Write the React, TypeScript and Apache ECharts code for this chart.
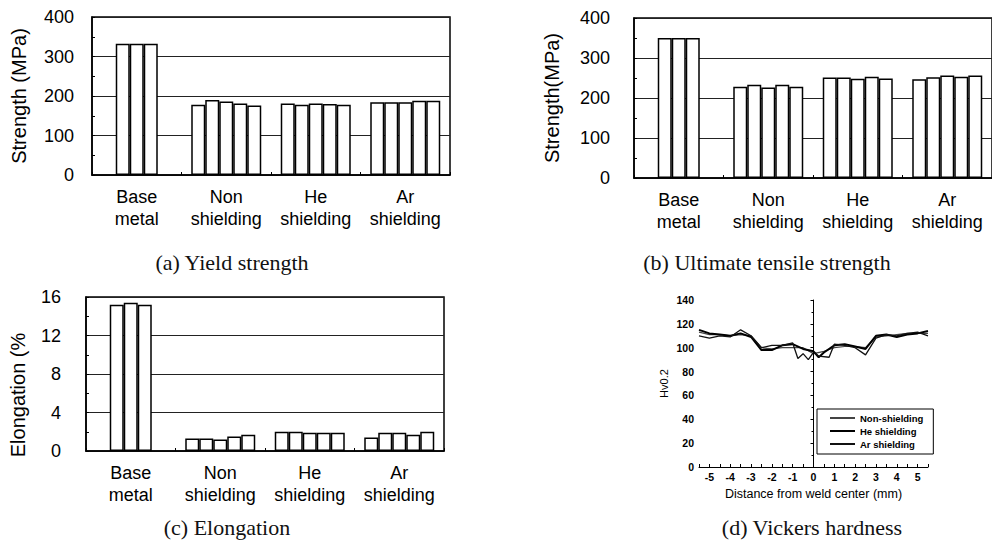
import { useEffect, useRef } from "react";
import * as echarts from "echarts";

// ---- categories ----
const groups = ["Base\nmetal", "Non\nshielding", "He\nshielding", "Ar\nshielding"];

// ---- (a) yield strength, MPa (base metal has 3 specimens, others 5) ----
const yieldBase = [332, 332, 332];
const yieldNon = [178, 190, 186, 181, 176];
const yieldHe = [181, 178, 181, 180, 178];
const yieldAr = [184, 184, 184, 188, 188];

// ---- (b) ultimate tensile strength, MPa ----
const utsBase = [350, 350, 350];
const utsNon = [228, 233, 226, 233, 228];
const utsHe = [251, 251, 248, 253, 249];
const utsAr = [247, 252, 256, 253, 256];

// ---- (c) elongation, % ----
const elBase = [15.2, 15.4, 15.2];
const elNon = [1.3, 1.3, 1.2, 1.5, 1.7];
const elHe = [2.0, 2.0, 1.9, 1.9, 1.9];
const elAr = [1.4, 1.9, 1.9, 1.7, 2.0];

// ---- (d) Vickers hardness profiles [distance mm, Hv0.2] ----
const hvNon: [number, number][] = [
  [-5.5, 113], [-5, 111], [-4.5, 111], [-4, 110], [-3.5, 111], [-3, 110], [-2.5, 100],
  [-2, 99], [-1.5, 100], [-1, 100], [-0.5, 100], [0, 95], [0.5, 97], [1, 100], [1.5, 101],
  [2, 101], [2.5, 100], [3, 109], [3.5, 110], [4, 111], [4.5, 112], [5, 112], [5.5, 112],
];
const hvHe: [number, number][] = [
  [-5.5, 115], [-5, 112], [-4.5, 111], [-4, 110], [-3.5, 112], [-3, 109], [-2.5, 98],
  [-2, 98], [-1.5, 102], [-1, 103], [-0.5, 99], [0, 97], [0.25, 92], [0.5, 96], [1, 102],
  [1.5, 103], [2, 101], [2.5, 99], [3, 110], [3.5, 111], [4, 109], [4.5, 111], [5, 112], [5.5, 114],
];
const hvAr: [number, number][] = [
  [-5.5, 110], [-5, 108], [-4.5, 110], [-4, 109], [-3.5, 115], [-3, 110], [-2.5, 100],
  [-2, 102], [-1.5, 102], [-1, 104], [-0.75, 91], [-0.5, 95], [-0.25, 90], [0, 96], [0.25, 93],
  [0.75, 92], [1, 103], [1.5, 102], [2, 100], [2.5, 94], [3, 108], [3.5, 111], [4, 110],
  [4.5, 112], [5, 113], [5.5, 110],
];
const hvNames = ["Non-shielding", "He shielding", "Ar shielding"];
const distLabels = [-5, -4, -3, -2, -1, 0, 1, 2, 3, 4, 5];
const distTicks = [-5.5, -5, -4.5, -4, -3.5, -3, -2.5, -2, -1.5, -1, -0.5, 0, 0.5, 1, 1.5, 2, 2.5, 3, 3.5, 4, 4.5, 5, 5.5];

const captions = ["(a) Yield strength", "(b) Ultimate tensile strength", "(c) Elongation", "(d) Vickers hardness"];

const SANS = "Liberation Sans, Arial, sans-serif";
const SERIF = "Liberation Serif, Times New Roman, serif";

function barSeries(idx: number, base: number[], non: number[], he: number[], ar: number[]) {
  const out: any[] = [];
  for (let k = 0; k < 5; k++) {
    const b = k >= 1 && k <= 3 ? base[k - 1] : "-";
    out.push({
      type: "bar",
      xAxisIndex: idx,
      yAxisIndex: idx,
      barWidth: 14,
      barGap: "0%",
      data: [b, non[k], he[k], ar[k]],
      itemStyle: { color: "#fff", borderColor: "#000", borderWidth: 1.5 },
      silent: true,
    });
  }
  return out;
}

function catAxis(idx: number) {
  return {
    type: "category",
    gridIndex: idx,
    data: groups,
    axisLine: { show: true, lineStyle: { color: "#000", width: 1.5 } },
    axisTick: { show: true, inside: true, length: 3, lineStyle: { color: "#000" } },
    axisLabel: { interval: 0, fontSize: 18, lineHeight: 22, margin: 11, color: "#000", fontFamily: SANS },
    splitLine: { show: false },
  };
}

function valAxis(idx: number, max: number, interval: number, margin: number, name: string, nameGap: number) {
  return {
    type: "value",
    gridIndex: idx,
    min: 0,
    max,
    interval,
    name,
    nameLocation: "middle",
    nameGap,
    nameTextStyle: { fontSize: 20, color: "#000", fontFamily: SANS },
    axisLine: { show: true, lineStyle: { color: "#000", width: 1.5 } },
    axisTick: { show: true, inside: true, length: 3, lineStyle: { color: "#000" } },
    minorTick: { show: true, splitNumber: 2, length: 3, lineStyle: { color: "#000" } },
    axisLabel: { fontSize: 18, color: "#000", margin, fontFamily: SANS },
    splitLine: { show: true, lineStyle: { color: "#222", width: 1 } },
  };
}

export default function App() {
  const ref = useRef<HTMLDivElement>(null);
  useEffect(() => {
    if (!ref.current) return;
    const chart = echarts.init(ref.current, null, { renderer: "svg" });
    const gridStyle = { show: true, borderColor: "#000", borderWidth: 1.5, backgroundColor: "transparent" };
    const option: any = {
      animation: false,
      backgroundColor: "#fff",
      textStyle: { fontFamily: SANS },
      grid: [
        { left: 92, top: 17, width: 358, height: 158, ...gridStyle },
        { left: 634, top: 18, width: 358, height: 160, ...gridStyle },
        { left: 86, top: 297, width: 358, height: 154, ...gridStyle },
        { left: 699, top: 300, width: 229, height: 167, show: false },
      ],
      xAxis: [
        catAxis(0),
        catAxis(1),
        catAxis(2),
        {
          type: "value",
          gridIndex: 3,
          min: -5.5,
          max: 5.5,
          name: "Distance from weld center (mm)",
          nameLocation: "middle",
          nameGap: 20,
          nameTextStyle: { fontSize: 12.5, color: "#000", fontFamily: SANS },
          axisLine: { show: true, lineStyle: { color: "#000", width: 1 } },
          axisTick: { show: true, inside: true, length: 3, customValues: distTicks, lineStyle: { color: "#000" } },
          axisLabel: {
            customValues: distLabels,
            fontSize: 10.5,
            fontWeight: "bold",
            color: "#000",
            margin: 4,
            fontFamily: SANS,
          },
          splitLine: { show: false },
        },
      ],
      yAxis: [
        valAxis(0, 400, 100, 18, "Strength (MPa)", 63),
        valAxis(1, 400, 100, 24, "Strength(MPa)", 72),
        valAxis(2, 16, 4, 25, "", 0),
        {
          type: "value",
          gridIndex: 3,
          min: 0,
          max: 140,
          interval: 20,
          name: "Hv0.2",
          nameLocation: "middle",
          nameGap: 30,
          nameTextStyle: { fontSize: 11, color: "#000", fontFamily: SANS },
          axisLine: { show: true, lineStyle: { color: "#000", width: 1 } },
          axisTick: { show: true, inside: false, length: 3, lineStyle: { color: "#000" } },
          minorTick: { show: true, splitNumber: 2, length: 2, lineStyle: { color: "#000" } },
          axisLabel: { fontSize: 10.5, fontWeight: "bold", color: "#000", margin: 5, fontFamily: SANS },
          splitLine: { show: false },
        },
      ],
      legend: {
        data: hvNames,
        orient: "vertical",
        left: 817,
        top: 409,
        itemWidth: 25,
        itemHeight: 10,
        itemGap: 3,
        padding: [4, 10, 5, 12],
        borderColor: "#000",
        borderWidth: 1,
        backgroundColor: "#fff",
        selectedMode: false,
        itemStyle: { opacity: 0 },
        textStyle: { fontSize: 9.5, fontWeight: "bold", color: "#000", fontFamily: SANS },
      },
      series: [
        ...barSeries(0, yieldBase, yieldNon, yieldHe, yieldAr),
        ...barSeries(1, utsBase, utsNon, utsHe, utsAr),
        ...barSeries(2, elBase, elNon, elHe, elAr),
        {
          name: hvNames[0],
          type: "line",
          xAxisIndex: 3,
          yAxisIndex: 3,
          symbol: "none",
          data: hvNon,
          lineStyle: { color: "#444", width: 1.2 },
          itemStyle: { color: "#444" },
          markLine: {
            silent: true,
            symbol: ["none", "none"],
            label: { show: false },
            lineStyle: { color: "#000", width: 1, type: "solid" },
            data: [{ xAxis: 0 }],
          },
        },
        {
          name: hvNames[1],
          type: "line",
          xAxisIndex: 3,
          yAxisIndex: 3,
          symbol: "none",
          data: hvHe,
          lineStyle: { color: "#000", width: 2 },
          itemStyle: { color: "#000" },
        },
        {
          name: hvNames[2],
          type: "line",
          xAxisIndex: 3,
          yAxisIndex: 3,
          symbol: "none",
          data: hvAr,
          lineStyle: { color: "#111", width: 1.3 },
          itemStyle: { color: "#111" },
        },
      ],
      graphic: [
        {
          type: "text",
          x: 18,
          y: 395,
          rotation: Math.PI / 2,
          style: {
            text: "Elongation (%",
            fontSize: 20,
            fontFamily: SANS,
            fill: "#000",
            textAlign: "center",
            textVerticalAlign: "middle",
            align: "center",
            verticalAlign: "middle",
          },
        },
        ...[
          [232, 262],
          [767, 262],
          [227, 527],
          [812, 527],
        ].map(([x, y], i) => ({
          type: "text",
          x,
          y,
          style: {
            text: captions[i],
            fontSize: 22,
            fontFamily: SERIF,
            fill: "#111",
            textAlign: "center",
            textVerticalAlign: "middle",
            align: "center",
            verticalAlign: "middle",
          },
        })),
      ],
    };
    chart.setOption(option);
    return () => chart.dispose();
  }, []);
  return <div ref={ref} style={{ position: "absolute", left: 0, top: 0, width: 992, height: 543 }} />;
}
